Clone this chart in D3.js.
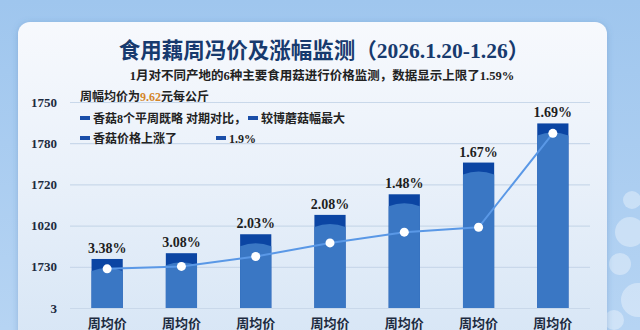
<!DOCTYPE html>
<html>
<head>
<meta charset="utf-8">
<script src="https://cdn.jsdelivr.net/npm/d3@7"></script>
<style>
  html, body { margin: 0; padding: 0; background: #a9cbef; }
  svg { display: block; }
</style>
</head>
<body>
<svg id="chart" width="640" height="330"></svg>
<script>
// ---- data ----
var categories = ["周均价", "周均价", "周均价", "周均价", "周均价", "周均价", "周均价"];
var barValues  = [1.19, 1.33, 1.79, 2.26, 2.76, 3.53, 4.48];
var lineValues = [0.95, 1.01, 1.25, 1.58, 1.84, 1.96, 4.24];
var pctLabels  = ["3.38%", "3.08%", "2.03%", "2.08%", "1.48%", "1.67%", "1.69%"];
var tickValues = [0, 1, 2, 3, 4, 5];
var tickLabels = ["3", "1730", "1020", "1720", "1780", "1750"];
var legendItems = ["香菇8个平周既略 对期对比，", "较博蘑菇幅最大", "香菇价格上涨了", "1.9%"];

var serif = "'Liberation Serif', 'DejaVu Serif', 'Noto Sans CJK SC', serif";
var cjk = "'Liberation Serif', 'Noto Sans CJK SC', sans-serif";

var svg = d3.select("#chart");
var defs = svg.append("defs");

// page background
var bg = defs.append("linearGradient").attr("id", "bgGrad").attr("x1", 0).attr("y1", 0).attr("x2", 0).attr("y2", 1);
bg.append("stop").attr("offset", "0%").attr("stop-color", "#9fc6ee");
bg.append("stop").attr("offset", "100%").attr("stop-color", "#b6d4f3");
svg.append("rect").attr("width", 640).attr("height", 330).attr("fill", "url(#bgGrad)");

// bubbles on right side
[[630, 232, 15], [620, 264, 11], [638, 300, 17], [614, 320, 10], [632, 200, 9]].forEach(function (c) {
  svg.append("circle").attr("cx", c[0]).attr("cy", c[1]).attr("r", c[2])
    .attr("fill", "#ffffff").attr("fill-opacity", 0.35);
});

// card
var cg = defs.append("linearGradient").attr("id", "cardGrad").attr("x1", 0).attr("y1", 0).attr("x2", 0).attr("y2", 1);
cg.append("stop").attr("offset", "0%").attr("stop-color", "#f7f9fd");
cg.append("stop").attr("offset", "45%").attr("stop-color", "#eaf1fa");
cg.append("stop").attr("offset", "100%").attr("stop-color", "#d6e5f5");
var sh = defs.append("filter").attr("id", "shadow").attr("x", -0.1).attr("y", -0.1).attr("width", 1.2).attr("height", 1.2);
sh.append("feDropShadow").attr("dx", 0).attr("dy", 1).attr("stdDeviation", 3).attr("flood-color", "#4a78b0").attr("flood-opacity", 0.35);
svg.append("rect").attr("x", 18).attr("y", 22).attr("width", 589).attr("height", 330)
  .attr("rx", 12).attr("fill", "url(#cardGrad)").attr("filter", "url(#shadow)");

// title block
svg.append("text").attr("x", 324).attr("y", 58).attr("text-anchor", "middle")
  .attr("font-family", cjk).attr("font-weight", "bold").attr("font-size", 21.5)
  .attr("fill", "#173a6e").text("食用藕周冯价及涨幅监测（2026.1.20-1.26）");
svg.append("text").attr("x", 322).attr("y", 80).attr("text-anchor", "middle")
  .attr("font-family", cjk).attr("font-weight", "bold").attr("font-size", 12.5)
  .attr("fill", "#222").text("1月对不同产地的6种主要食用菇进行价格监测，数据显示上限了1.59%");
var sub = svg.append("text").attr("x", 80).attr("y", 101)
  .attr("font-family", cjk).attr("font-weight", "bold").attr("font-size", 12).attr("fill", "#222");
sub.append("tspan").text("周幅均价为");
sub.append("tspan").attr("fill", "#d4862c").text("9.62");
sub.append("tspan").text("元每公斤");

// scales
var x = d3.scaleBand().domain(d3.range(categories.length)).range([70, 590])
  .paddingInner(0.58).paddingOuter(0.29);
var y = d3.scaleLinear().domain([0, 5]).range([308, 102]);

// grid + y axis
var yAxis = d3.axisLeft(y).tickValues(tickValues).tickSize(-520)
  .tickFormat(function (d, i) { return tickLabels[i]; });
var gy = svg.append("g").attr("transform", "translate(70,0)").call(yAxis);
gy.select(".domain").remove();
gy.selectAll(".tick line").attr("stroke", "#c9d8ea").attr("stroke-width", 1.2);
gy.selectAll(".tick text").attr("x", -13).attr("font-family", serif).attr("font-weight", "bold")
  .attr("font-size", 13).attr("fill", "#1d2b40");

// legend
var legPos = [[80, 118], [248, 118], [80, 138], [216, 138]];
legendItems.forEach(function (t, i) {
  var g = svg.append("g").attr("transform", "translate(" + legPos[i][0] + "," + legPos[i][1] + ")");
  g.append("rect").attr("x", 0).attr("y", -2).attr("width", 10).attr("height", 4).attr("fill", "#1a4ea8");
  g.append("text").attr("x", 13).attr("y", 4.5).attr("font-family", cjk).attr("font-weight", "bold")
    .attr("font-size", 12).attr("fill", "#222").text(t);
});

// bars
var bw = x.bandwidth();
var bars = svg.append("g").selectAll("g").data(barValues).enter().append("g");
bars.append("rect").attr("x", function (d, i) { return x(i); }).attr("y", function (d) { return y(d); })
  .attr("width", bw).attr("height", function (d) { return y(0) - y(d); }).attr("fill", "#0b45a3");
bars.append("path").attr("fill", "#3a77c4").attr("d", function (d, i) {
  var x0 = x(i), x1 = x(i) + bw, top = y(d) + 9, yb = y(0);
  return "M" + x0 + "," + (top + 3) + " Q" + (x0 + bw / 2) + "," + (top - 3) + " " + x1 + "," + (top + 3) +
    " L" + x1 + "," + yb + " L" + x0 + "," + yb + " Z";
});

// pct labels
svg.append("g").selectAll("text").data(pctLabels).enter().append("text")
  .attr("x", function (d, i) { return x(i) + bw / 2; })
  .attr("y", function (d, i) { return y(barValues[i]) - 6; })
  .attr("text-anchor", "middle").attr("font-family", serif).attr("font-weight", "bold")
  .attr("font-size", 14).attr("fill", "#1e1e1e").text(function (d) { return d; });

// line
var line = d3.line().x(function (d, i) { return x(i) + bw / 2; }).y(function (d) { return y(d); });
svg.append("path").datum(lineValues).attr("d", line).attr("fill", "none")
  .attr("stroke", "#5a98e6").attr("stroke-width", 2);
svg.append("g").selectAll("circle").data(lineValues).enter().append("circle")
  .attr("cx", function (d, i) { return x(i) + bw / 2; }).attr("cy", function (d) { return y(d); })
  .attr("r", 4.5).attr("fill", "#ffffff");

// x axis labels
svg.append("g").selectAll("text").data(categories).enter().append("text")
  .attr("x", function (d, i) { return x(i) + bw / 2; }).attr("y", 328)
  .attr("text-anchor", "middle").attr("font-family", cjk).attr("font-weight", "bold")
  .attr("font-size", 13).attr("fill", "#1d2b40").text(function (d) { return d; });
</script>
</body>
</html>
